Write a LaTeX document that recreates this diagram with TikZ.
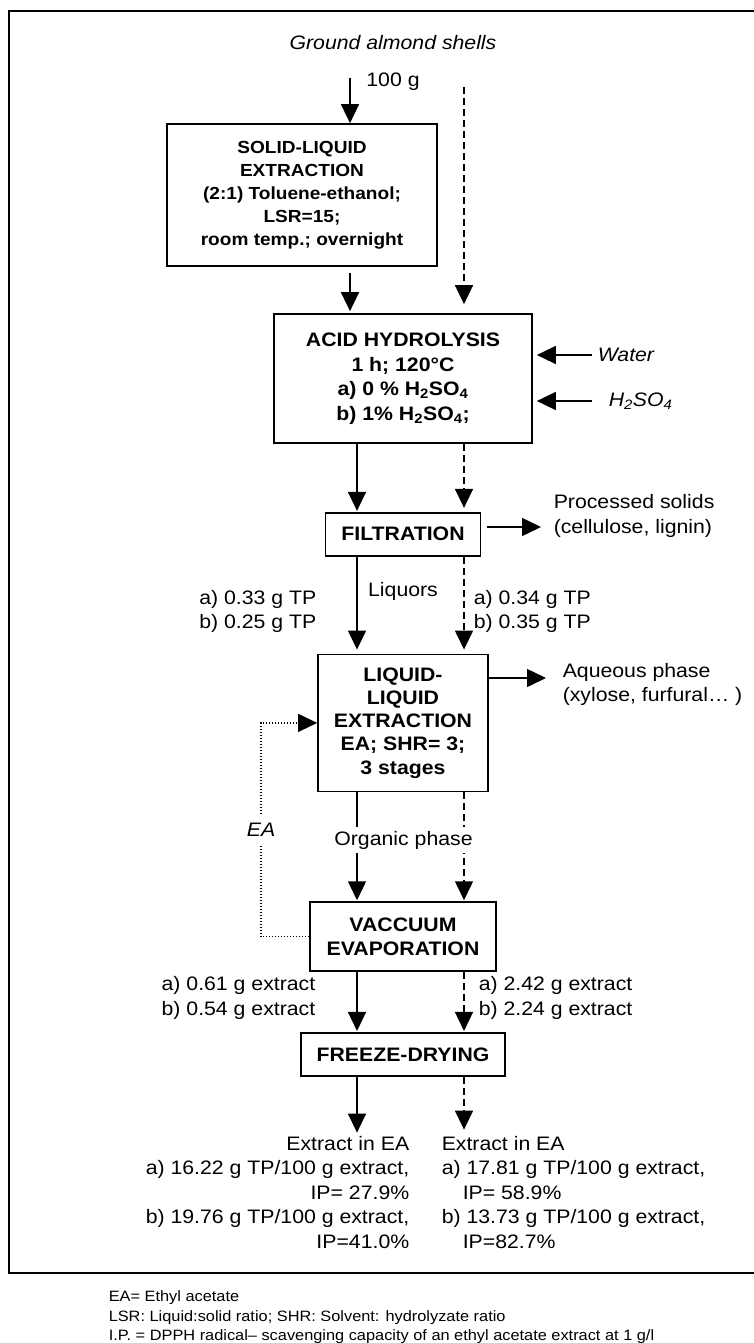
\documentclass[tikz,border=0pt]{standalone}
\usepackage{fontspec}
\setmainfont{Liberation Sans}[FakeStretch=1.09]
\usetikzlibrary{positioning,arrows.meta}
\newcommand{\normtxt}{\fontsize{19.5}{24.5}\selectfont}
\newcommand{\boxtxt}{\fontsize{17.5}{23}\selectfont}
\newcommand{\notetxt}{\fontsize{15}{19.5}\selectfont}
\newcommand{\sulf}{H\textsubscript{2}SO\textsubscript{4}}

\begin{document}
\begin{tikzpicture}[x=1pt, y=-1pt, font=\normtxt, line width=1.5pt,
      >={Triangle[length=19pt,width=18pt]},
      proc/.style={draw, line width=1.7pt, align=center, font=\normtxt\bfseries, inner sep=0pt},
      lbl/.style={align=left, inner sep=0pt},
      bypass/.style={->, dash pattern=on 7pt off 4pt},
      recycle/.style={->, line width=1.2pt, dash pattern=on 1pt off 2pt}]
  \useasboundingbox (0,0) rectangle (754,1343);
  \draw[line width=2.3pt] (756,11) -| (9,1273) -- (756,1273);
  % columns of the two routes
  \coordinate (c0) at (350,0);
  \coordinate (cl) at (357,0);
  \coordinate (cr) at (464,0);
  \coordinate (ret) at (261,0);
  \coordinate (feed) at (350,78);
  \coordinate (skip) at (464,87);

  \node[font=\normtxt\itshape] (shells) at (393,43) {Ground almond shells};
  \node (mass) at (393,82) {100 g};
  \node[proc, font=\boxtxt\bfseries, minimum width=270pt, minimum height=142pt] (sle) at (302,195)
       {SOLID-LIQUID\\EXTRACTION\\(2:1) Toluene-ethanol;\\LSR=15;\\room temp.; overnight};
  \node[proc, minimum width=258pt, minimum height=129pt] (acid) at (403,378.5)
       {ACID HYDROLYSIS\\1 h; 120\textdegree C\\a) 0 \% \sulf\\b) 1\% \sulf;};
  \node[proc, minimum width=155pt, minimum height=43pt, below=68pt of acid] (filt) {FILTRATION};
  \node[proc, minimum width=170pt, minimum height=137pt, below=97pt of filt, font=\fontsize{19.5}{23.3}\selectfont\bfseries] (ll)
       {LIQUID-\\LIQUID\\EXTRACTION\\EA; SHR= 3;\\3 stages};
  \node[proc, minimum width=186pt, minimum height=69pt, below=109pt of ll] (vac) {VACCUUM\\EVAPORATION};
  \node[proc, minimum width=204pt, minimum height=43pt, below=60pt of vac] (freeze) {FREEZE-DRYING};

  \node[lbl, inner xsep=5pt, anchor=west, font=\normtxt\itshape] (water) at (592,355) {Water};
  \node[lbl, inner xsep=16pt, anchor=west, font=\normtxt\itshape] (acidin) at (592,401) {\sulf};
  \node[lbl, anchor=west] (solids) at (553,516) {Processed solids\\(cellulose, lignin)};
  \node (liquors) at (403,591) {Liquors};
  \node[lbl, anchor=east] (tpl) at (317,611.5) {a) 0.33 g TP\\b) 0.25 g TP};
  \node[lbl, anchor=west] (tpr) at (473,611.5) {a) 0.34 g TP\\b) 0.35 g TP};
  \node[lbl, anchor=west] (aq) at (562,684.5) {Aqueous phase\\(xylose, furfural… )};
  \node[lbl, anchor=east] (exl) at (316,998) {a) 0.61 g extract\\b) 0.54 g extract};
  \node[lbl, anchor=west] (exr) at (478,998) {a) 2.42 g extract\\b) 2.24 g extract};
  \node[lbl, align=right, anchor=east] (outl) at (410,1192.5)
       {Extract in EA\\a) 16.22 g TP/100 g extract,\\IP= 27.9\%\\b) 19.76 g TP/100 g extract,\\IP=41.0\%};
  \node[lbl, anchor=west] (outr) at (441,1192.5)
       {Extract in EA\\a) 17.81 g TP/100 g extract,\\\hspace*{21pt}IP= 58.9\%\\b) 13.73 g TP/100 g extract,\\\hspace*{21pt}IP=82.7\%};
  \node[lbl, font=\notetxt, anchor=west] (notes) at (108,1317.5)
       {EA= Ethyl acetate\\LSR: Liquid:solid ratio; SHR: Solvent: hydrolyzate ratio\\I.P. = DPPH radical– scavenging capacity of an ethyl acetate extract at 1 g/l};
  \coordinate[yshift=-11pt] (solin) at (solids.west);
  \coordinate[yshift=6.5pt] (aqin) at (aq.west);

  \draw[->] (feed) -- (feed |- sle.north);
  \draw[bypass, shorten >=9pt] (skip) -- (skip |- acid.north);
  \draw[->, shorten <=6pt, shorten >=2pt] (sle.south -| c0) -- (acid.north -| c0);
  \draw[->, shorten >=4pt] (water.west) -- (water.west -| acid.east);
  \draw[->, shorten >=4pt] (acidin.west) -- (acidin.west -| acid.east);
  \draw[->, shorten >=1pt] (acid.south -| cl) -- (filt.north -| cl);
  \draw[bypass, shorten >=4pt] (acid.south -| cr) -- (filt.north -| cr);
  \draw[->, shorten <=6pt, shorten >=12pt] (solin -| filt.east) -- (solin);
  \draw[->, shorten >=4pt] (filt.south -| cl) -- (ll.north -| cl);
  \draw[bypass, shorten >=4pt] (filt.south -| cr) -- (ll.north -| cr);
  \draw[->, shorten >=16pt] (aqin -| ll.east) -- (aqin);
  \draw[->, shorten >=1pt] (ll.south -| cl) -- (vac.north -| cl);
  \draw[bypass, shorten >=1pt] (ll.south -| cr) -- (vac.north -| cr);
  \node[fill=white, inner xsep=0pt, inner ysep=3.5pt] (org) at (403.5,840) {Organic phase};
  \draw[recycle] (vac.west) -- (vac.west -| ret)
       -- node[fill=white, inner ysep=8pt, inner xsep=2pt, font=\normtxt\itshape] (ea) {EA} (ll.west -| ret)
       -- (ll.west);
  \draw[->, shorten >=1pt] (vac.south -| cl) -- (freeze.north -| cl);
  \draw[bypass, shorten >=1pt] (vac.south -| cr) -- (freeze.north -| cr);
  \draw[->, shorten >=3pt] (freeze.south -| cl) -- (outl.north -| cl);
  \draw[bypass, shorten >=6pt] (freeze.south -| cr) -- (outr.north -| cr);
\end{tikzpicture}
\end{document}
